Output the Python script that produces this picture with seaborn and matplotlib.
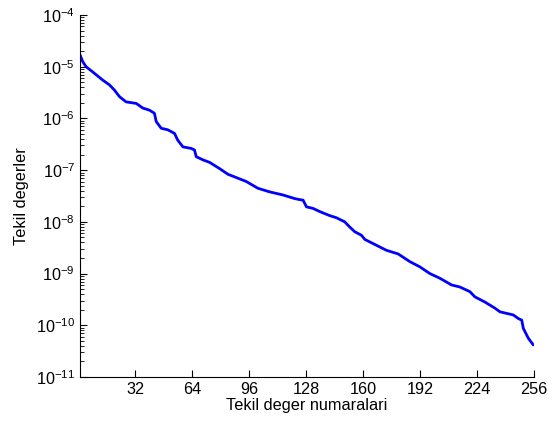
import numpy as np
import pandas as pd
import matplotlib
matplotlib.use("Agg")
import matplotlib.pyplot as plt
import seaborn as sns
from matplotlib.ticker import FixedLocator, NullFormatter

# Data (index, log10 of singular value)
idx = [1, 2.5, 4.4, 8.1, 13.8, 17.5, 20.3, 23.2, 26.9, 32.6, 36.3, 40.0, 42.8, 43.8,
       46.6, 50.3, 54.1, 55.9, 58.8, 63.5, 65.3, 66.3, 70, 73.8, 79.4, 84.1, 87.8,
       94.4, 100.9, 107.5, 115, 121.6, 124.4, 126.3, 128.2, 131.9, 135.6, 141.3, 145,
       149.7, 152.5, 155.3, 159.1, 161, 165.6, 173.1, 179.7, 186.3, 191.9, 197.5,
       203.1, 209.7, 214.4, 220, 222.8, 228.4, 234.1, 236.9, 244.4, 247.2, 249.1,
       250, 252.8, 255.6]
log_sv = [-4.77, -4.90, -5.00, -5.10, -5.26, -5.35, -5.45, -5.58, -5.68, -5.71, -5.80,
          -5.84, -5.90, -6.06, -6.19, -6.22, -6.29, -6.42, -6.55, -6.58, -6.61, -6.74,
          -6.80, -6.85, -6.97, -7.08, -7.13, -7.22, -7.35, -7.42, -7.48, -7.55, -7.57,
          -7.58, -7.71, -7.74, -7.80, -7.88, -7.92, -8.00, -8.10, -8.19, -8.26, -8.34,
          -8.42, -8.55, -8.62, -8.77, -8.87, -9.00, -9.09, -9.22, -9.26, -9.35, -9.45,
          -9.55, -9.67, -9.74, -9.80, -9.87, -9.90, -10.06, -10.25, -10.38]
x_ticks = [32, 64, 96, 128, 160, 192, 224, 256]
y_exponents = [-11, -10, -9, -8, -7, -6, -5, -4]
x_label = "Tekil deger numaralari"
y_label = "Tekil degerler"

df = pd.DataFrame({"n": idx, "sv": [10.0 ** v for v in log_sv]})

sns.set_style("ticks")
plt.rcParams["font.family"] = ["Liberation Sans", "DejaVu Sans"]
plt.rcParams["mathtext.fontset"] = "custom"
plt.rcParams["mathtext.rm"] = "Liberation Sans"
plt.rcParams["mathtext.it"] = "Liberation Sans:italic"
plt.rcParams["mathtext.bf"] = "Liberation Sans:bold"
for key in ["text.color", "axes.labelcolor", "xtick.color", "ytick.color",
            "xtick.labelcolor", "ytick.labelcolor"]:
    plt.rcParams[key] = "black"

fig = plt.figure(figsize=(5.58, 4.21), dpi=100)
ax = fig.add_axes([80 / 558, 1 - 377 / 421, (534 - 80) / 558, (377 - 15) / 421])

sns.lineplot(data=df, x="n", y="sv", ax=ax, color=(0, 0, 1), linewidth=2, sort=False)

ax.set_yscale("log")
ax.set_xlim(1, 256)
ax.set_ylim(1e-11, 1e-4)
ax.xaxis.set_major_locator(FixedLocator(x_ticks))
major_y = [10.0 ** e for e in y_exponents]
minor_y = [m * 10.0 ** e for e in y_exponents[:-1] for m in range(2, 10)]
ax.yaxis.set_major_locator(FixedLocator(major_y))
ax.set_yticklabels([r"$10^{%d}$" % e for e in y_exponents])
ax.yaxis.set_minor_locator(FixedLocator(minor_y))
ax.yaxis.set_minor_formatter(NullFormatter())
ax.tick_params(axis="both", which="both", direction="in", labelsize=11.7,
               color="black", labelcolor="black")
ax.tick_params(axis="both", which="major", length=5, width=0.8)
ax.tick_params(axis="y", which="minor", length=3, width=0.6)
ax.set_xlabel(x_label, fontsize=11.7, labelpad=1, color="black")
ax.set_ylabel(y_label, fontsize=11.7, labelpad=5, color="black")
for s in ["top", "right"]:
    ax.spines[s].set_visible(False)
for s in ["left", "bottom"]:
    ax.spines[s].set_linewidth(0.8)
    ax.spines[s].set_color("black")

fig.savefig("out.png", dpi=100)
